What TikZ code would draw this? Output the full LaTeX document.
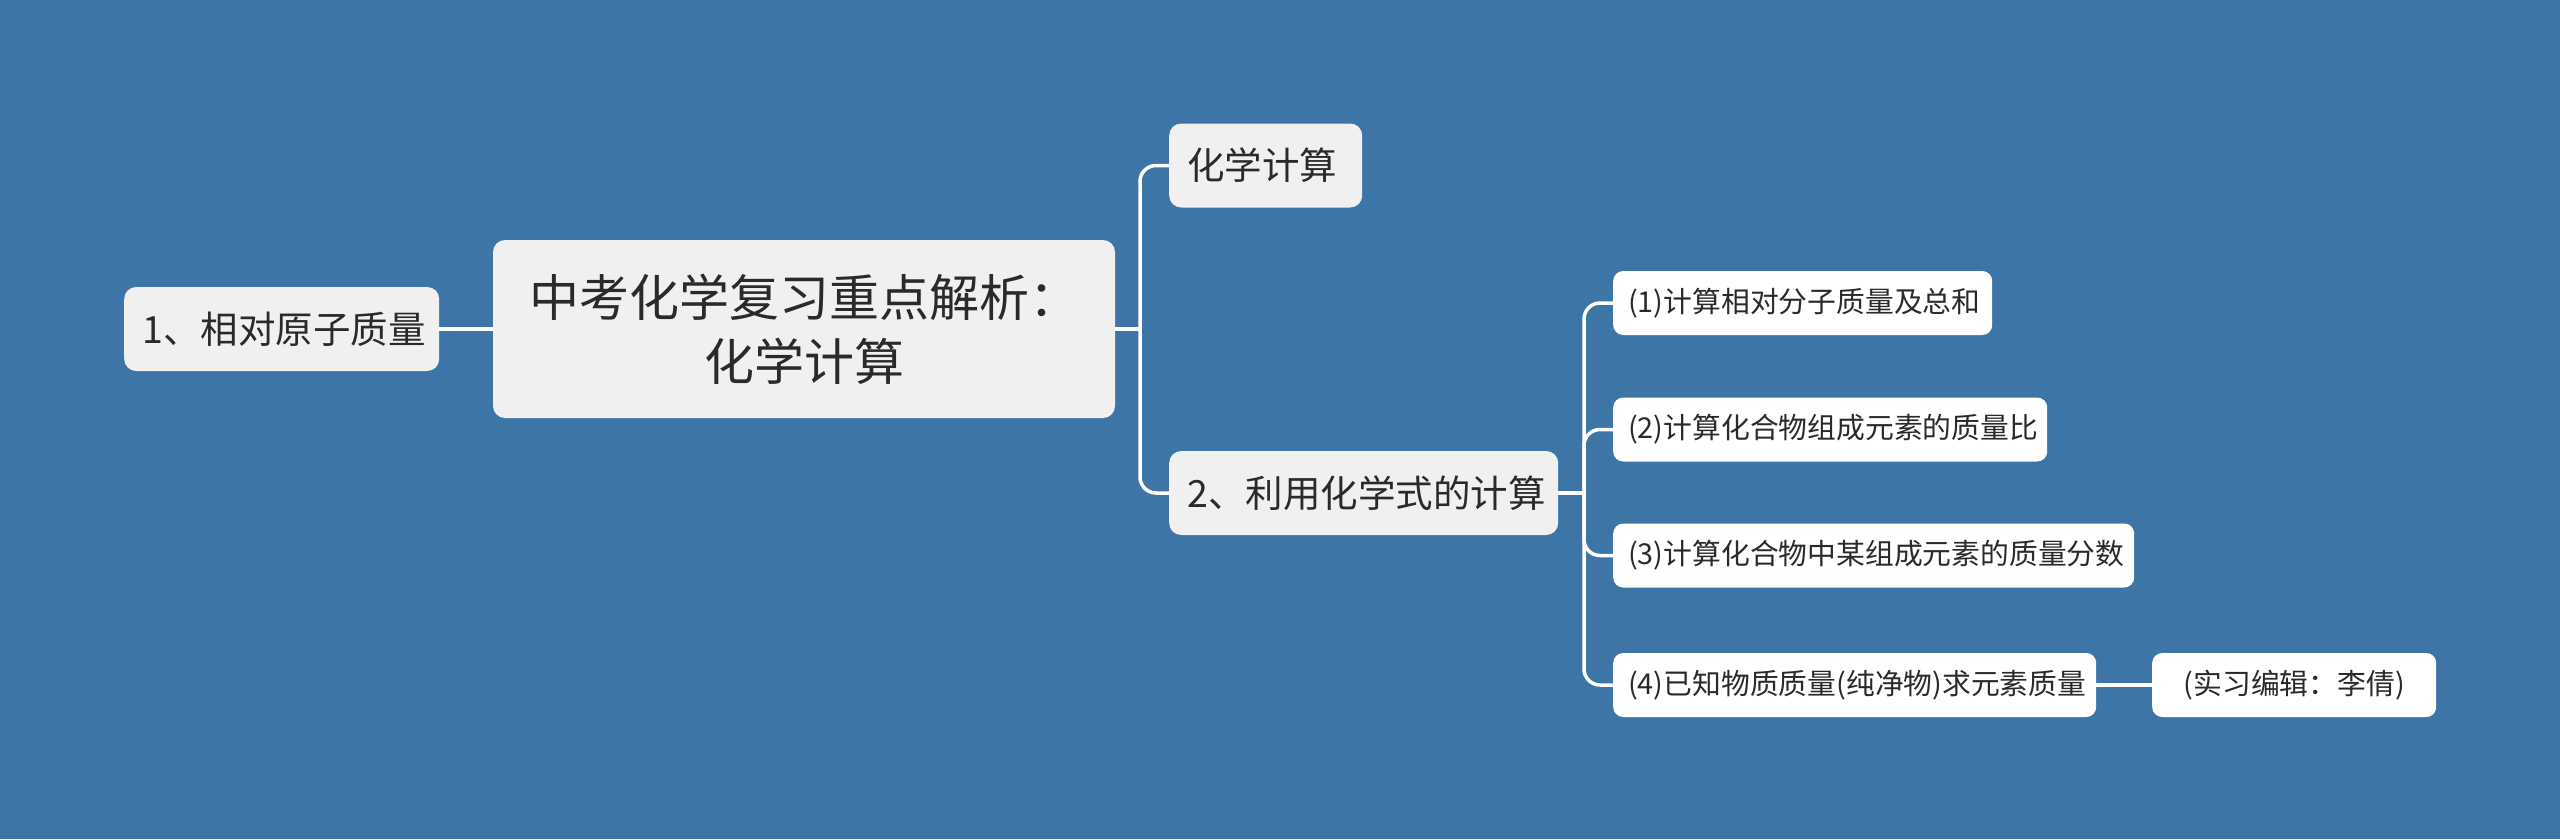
\documentclass[tikz,border=0pt]{standalone}
\usepackage{fontspec}
\setmainfont{Noto Sans CJK SC}
\definecolor{bgblue}{HTML}{3D75A6}
\definecolor{boxgray}{HTML}{F0F0F0}
\definecolor{txt}{HTML}{2A2A2A}
\tikzset{
  rootbox/.style={fill=boxgray, rounded corners=12pt, text=txt, align=center,
    minimum width=622pt, minimum height=178pt, inner sep=0pt,
    font=\fontsize{50}{64}\selectfont},
  lvlone/.style={fill=boxgray, rounded corners=12pt, text=txt, align=left,
    minimum height=84pt, inner xsep=18pt, inner ysep=0pt, anchor=west,
    font=\fontsize{37.5}{44}\selectfont},
  lvltwo/.style={fill=white, rounded corners=10pt, text=txt, align=left,
    minimum height=64pt, inner xsep=15pt, inner ysep=0pt, anchor=west,
    font=\fontsize{28.8}{34}\selectfont},
  conn/.style={draw=white, line width=3.5pt, rounded corners=16pt}
}
\begin{document}
\begin{tikzpicture}[x=1pt,y=-1pt]
\fill[bgblue] (0,0) rectangle (2560,839);
\useasboundingbox (0,0) rectangle (2560,839);

\node[lvlone, text width=279pt] (n1) at (124,329) {1、相对原子质量};
\node[rootbox] (root) at (804,329) {中考化学复习重点解析：\\化学计算};
\node[lvlone, text width=157pt] (calc) at (1169,165.5) {化学计算};
\node[lvlone, text width=353pt] (use) at (1169,493) {2、利用化学式的计算};

\node[lvltwo, text width=349pt] (s1) at (1613,303) {(1)计算相对分子质量及总和};
\node[lvltwo, text width=404pt] (s2) at (1613,429.5) {(2)计算化合物组成元素的质量比};
\node[lvltwo, text width=491pt] (s3) at (1613,555.5) {(3)计算化合物中某组成元素的质量分数};
\node[lvltwo, text width=453pt] (s4) at (1613,685) {(4)已知物质质量(纯净物)求元素质量};
\node[lvltwo, text width=254pt, align=center] (note) at (2152,685) {(实习编辑：李倩)};

\coordinate (j1) at (1140,329);
\coordinate (j2) at (1584,493);

\draw[conn] (n1.east) -- (root.west);
\draw[conn] (root.east) -- (j1);
\draw[conn] (j1) |- (calc.west);
\draw[conn] (j1) |- (use.west);
\draw[conn] (use.east) -- (j2);
\draw[conn] (j2) |- (s1.west);
\draw[conn] (j2) |- (s2.west);
\draw[conn] (j2) |- (s3.west);
\draw[conn] (j2) |- (s4.west);
\draw[conn] (s4.east) -- (note.west);
\end{tikzpicture}
\end{document}
